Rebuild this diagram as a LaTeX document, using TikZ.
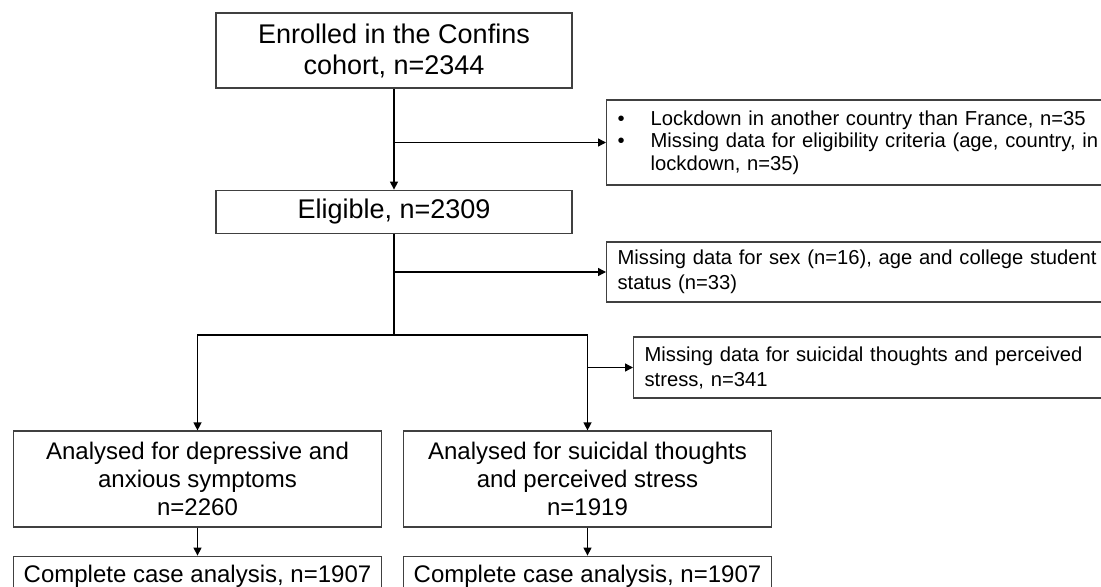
\documentclass[tikz,border=0pt]{standalone}
\usepackage{fontspec}
\setmainfont{Liberation Sans}
\usetikzlibrary{positioning}
\usetikzlibrary{arrows.meta}

\begin{document}
\begin{tikzpicture}[
        x=0.5pt, y=-0.5pt,
        box/.style={rectangle, draw=black!75, line width=0.6pt, align=center, inner sep=0pt, font=\fontsize{13.5}{15.5}\selectfont},
        abox/.style={box, minimum width=184pt, font=\fontsize{12}{14.15}\selectfont},
        excl/.style={rectangle, draw=black!75, line width=0.6pt, anchor=west, align=left, text width=270pt, inner xsep=5.5pt, inner ysep=0pt, font=\fontsize{10.1}{12.5}\selectfont},
        link/.style={line width=0.65pt, black},
        >={Triangle[length=4pt, width=4pt]}
    ]
        \path[use as bounding box, clip] (0,0) rectangle (1101,587);

        \node[box, minimum width=178pt, minimum height=37.5pt](enrol) at (394,50.5){Enrolled in the Confins\\cohort, n=2344};
            \node[box, minimum width=178pt, minimum height=21.5pt](elig)[below=50.5pt of enrol]{Eligible, n=2309};
                \coordinate (split) at (394,335);
                \node[abox, minimum height=48pt](anadep) at (197.5,479){Analysed for depressive and\\anxious symptoms\\n=2260};
                    \node[abox, minimum height=20pt](ccdep)[below=14pt of anadep]{Complete case analysis, n=1907};
                \node[abox, minimum height=48pt](anasui) at (587.5,479){Analysed for suicidal thoughts\\and perceived stress\\n=1919};
                    \node[abox, minimum height=20pt](ccsui)[below=14pt of anasui]{Complete case analysis, n=1907};

        \node[excl, minimum height=42.5pt, font=\fontsize{10.1}{11.25}\selectfont](ex1) at (606,142.5){\makebox[16.5pt][l]{\textbullet}Lockdown in another country than France, n=35\\\makebox[16.5pt][l]{\textbullet}Missing data for eligibility criteria (age, country, in\\\hspace*{16.5pt}lockdown, n=35)};
        \node[excl, minimum height=30pt](ex2) at (606,272){Missing data for sex (n=16), age and college student\\status (n=33)};
        \node[excl, minimum height=30.5pt](ex3) at (633,367.5){Missing data for suicidal thoughts and perceived\\stress, n=341};

        \draw[link, ->] (enrol) -- (elig);
        \draw[link, ->] (enrol.south |- ex1.west) -- (ex1.west);
        \draw[link] (elig) -- (split);
        \draw[link, ->] (elig.south |- ex2.west) -- (ex2.west);
        \draw[link, ->] (split) -| (anadep);
        \draw[link, ->] (split) -| (anasui);
        \draw[link, ->] (anasui.north |- ex3.west) -- (ex3.west);
        \draw[link, ->] (anadep) -- (ccdep);
        \draw[link, ->] (anasui) -- (ccsui);
    \end{tikzpicture}
\end{document}
